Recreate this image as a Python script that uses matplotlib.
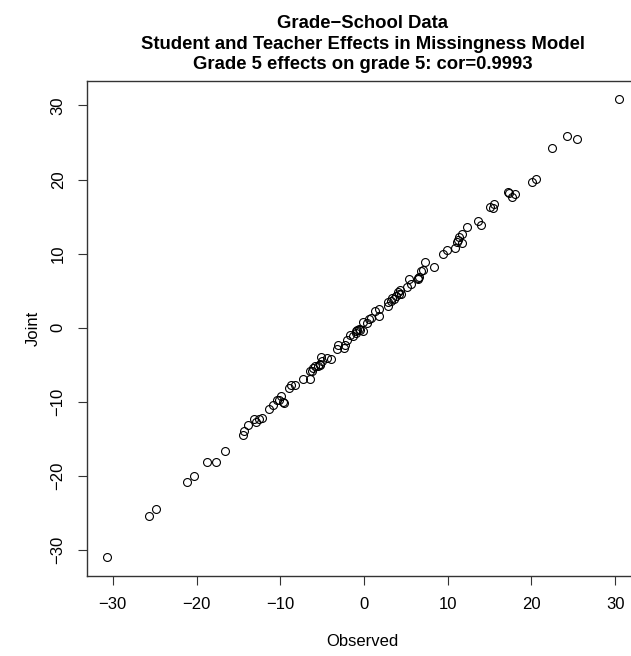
"""Grade-School data: observed vs joint grade 5 effects (R base-graphics look)."""

import matplotlib
matplotlib.use("Agg")
import matplotlib.pyplot as plt
import numpy as np

plt.rcParams["font.family"] = ["Liberation Sans", "DejaVu Sans"]

W, H = 631, 656

TITLE_LINES = [
    "Grade\u2212School Data",
    "Student and Teacher Effects in Missingness Model",
    "Grade 5 effects on grade 5: cor=0.9993",
]
X_LABEL = "Observed"
Y_LABEL = "Joint"
TICKS = [-30, -20, -10, 0, 10, 20, 30]

# effects
observed = [
    30.4, 24.2, 25.4, 22.4, 20.1, 20.5, 17.3, 17.2, 17.7, 18.0,
    15.1, 15.5, 15.4, 13.6, 14.0, 12.3, 11.7, 11.3, 11.1, 11.7,
    10.9, 9.9, 9.4, 8.4, 7.3, 7.0, 6.8, 6.4, 6.5, 5.4,
    5.6, 5.1, 4.3, 4.1, 3.8, 4.4, 3.4, 3.2, 2.9, 2.9,
    1.8, 1.3, 1.8, 0.8, 0.6, 0.3, -0.1, -0.1, -0.5, -0.8,
    -0.9, -1.0, -1.3, -1.7, -2.0, -2.3, -2.4, -3.1, -3.2, -4.0,
    -4.4, -5.1, -5.0, -5.2, -5.5, -5.8, -6.1, -6.2, -6.5, -6.5,
    -7.3, -8.3, -8.7, -8.9, -9.6, -9.7, -9.9, -10.1, -10.4, -10.9,
    -11.4, -12.2, -12.6, -12.9, -13.1, -13.8, -14.3, -14.5, -16.6, -17.7,
    -18.7, -20.3, -21.2, -24.8, -25.7, -30.7,
    4.2, 3.6, -5.3, -0.6, 11.2, 6.6,
]
joint = [
    30.9, 25.9, 25.5, 24.3, 19.7, 20.1, 18.2, 18.3, 17.7, 18.1,
    16.3, 16.7, 16.2, 14.4, 13.8, 13.6, 12.7, 12.2, 11.5, 11.4,
    10.7, 10.5, 9.9, 8.2, 8.8, 7.8, 7.6, 6.7, 6.6, 6.6,
    5.9, 5.5, 5.1, 4.8, 4.3, 4.5, 4.0, 3.6, 3.5, 2.9,
    2.5, 2.3, 1.6, 1.3, 1.1, 0.6, 0.8, -0.4, -0.3, -0.3,
    -0.4, -0.7, -1.1, -1.0, -1.7, -2.3, -2.8, -2.4, -2.9, -4.2,
    -4.1, -3.9, -4.5, -4.9, -5.2, -5.2, -5.5, -5.8, -5.8, -6.9,
    -6.9, -7.7, -7.8, -8.1, -10.2, -10.0, -9.2, -9.8, -9.8, -10.5,
    -11.0, -12.2, -12.4, -12.7, -12.3, -13.1, -14.0, -14.5, -16.6, -18.2,
    -18.2, -20.0, -20.8, -24.5, -25.5, -31.0,
    4.6, 3.8, -5.0, -0.2, 11.8, 6.9,
]


def px(x, y):
    """pixel (from top-left) -> figure fraction"""
    return x / W, 1 - y / H


fig = plt.figure(figsize=(W / 100, H / 100), dpi=100)

# plot region in pixels; the right edge runs past the figure, as in the source
left, right, top, bottom = 86.5, 639.0, 80.5, 575.5
ax = fig.add_axes([left / W, 1 - bottom / H, (right - left) / W, (bottom - top) / H])

ax.plot(observed, joint, linestyle="none", marker="o", markersize=5.7,
        markerfacecolor="none", markeredgecolor="black", markeredgewidth=0.8)

# R pads the data range by 4 %
xr = max(observed) - min(observed)
yr = max(joint) - min(joint)
ax.set_xlim(min(observed) - 0.04 * xr, max(observed) + 0.04 * xr)
ax.set_ylim(min(joint) - 0.04 * yr, max(joint) + 0.04 * yr)

ax.set_xticks(TICKS)
ax.set_yticks(TICKS)
ax.set_xticklabels([str(t).replace("-", "\u2212") for t in TICKS])
ax.set_yticklabels([str(t).replace("-", "\u2212") for t in TICKS],
                   rotation=90, va="center")
ax.tick_params(direction="out", length=6.5, width=0.8, colors="#333333",
               labelcolor="black", labelsize=12)
ax.tick_params(axis="x", pad=9)
ax.tick_params(axis="y", pad=8.5)
for sp in ax.spines.values():
    sp.set_linewidth(1.0)
    sp.set_color("#333333")

for i, line in enumerate(TITLE_LINES):
    fig.text(*px(362.8, 23.5 + 20.7 * i), line, ha="center", va="center",
             fontsize=13.3, fontweight="bold")

fig.text(*px(362.8, 642), X_LABEL, ha="center", va="center", fontsize=12)
fig.text(*px(33, 328), Y_LABEL, ha="center", va="center", fontsize=12,
         rotation=90)

fig.savefig("out.png", dpi=100)
plt.close(fig)
print("[OK] Saved: out.png")
